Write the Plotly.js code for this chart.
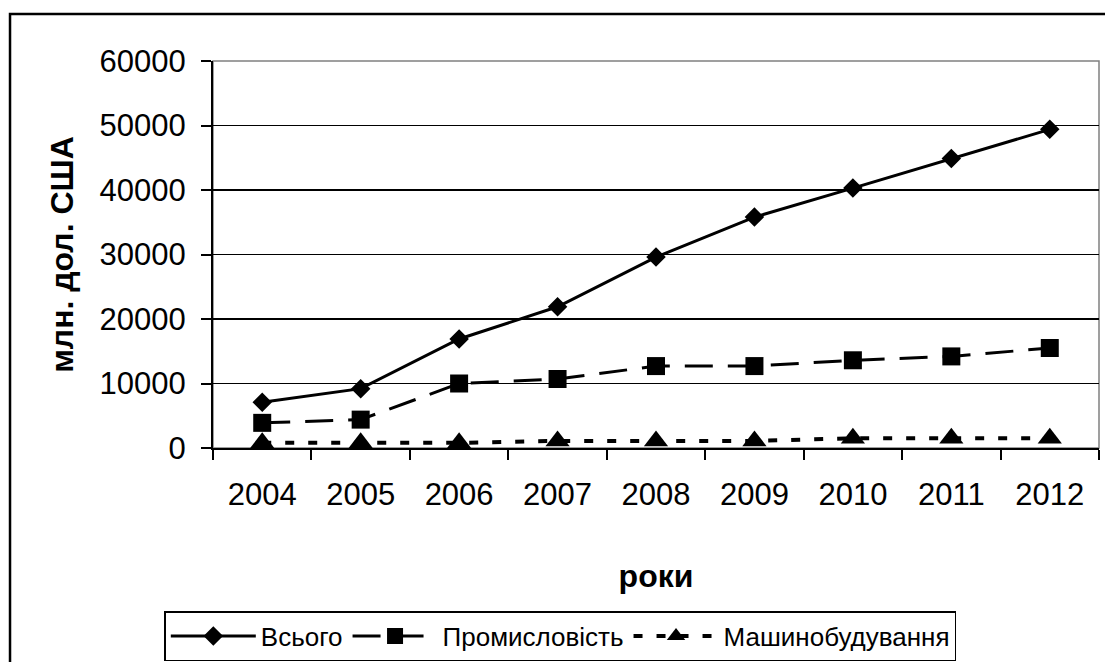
<!DOCTYPE html>
<html>
<head>
<meta charset="utf-8">
<script src="https://cdn.plot.ly/plotly-3.0.1.min.js"></script>
<style>html,body{margin:0;padding:0;background:#fff;}#chart{width:1105px;height:662px;}</style>
</head>
<body>
<div id="chart"></div>
<script>
const years = ['2004','2005','2006','2007','2008','2009','2010','2011','2012'];
const totalValues = [7100, 9200, 16900, 21900, 29600, 35800, 40300, 44900, 49400];
const industryValues = [3900, 4400, 10000, 10700, 12700, 12700, 13600, 14200, 15500];
const machineValues = [800, 800, 800, 1100, 1100, 1100, 1500, 1500, 1500];
const seriesNames = ['Всього', 'Промисловість', 'Машинобудування'];
const yTicks = [0, 10000, 20000, 30000, 40000, 50000, 60000];

const FONT = 'Liberation Sans, Arial, sans-serif';

const traces = [
  {
    x: years, y: totalValues, name: seriesNames[0], type: 'scatter', mode: 'lines+markers',
    line: {color: '#000', width: 3},
    marker: {symbol: 'diamond', size: 15, color: '#000'}
  },
  {
    x: years, y: industryValues, name: seriesNames[1], type: 'scatter', mode: 'lines+markers',
    line: {color: '#000', width: 3, dash: '28px,15px'},
    marker: {symbol: 'square', size: 18, color: '#000'}
  },
  {
    x: years, y: machineValues, name: seriesNames[2], type: 'scatter', mode: 'lines+markers',
    line: {color: '#000', width: 4, dash: '9px,14px'},
    marker: {symbol: 'triangle-up', size: 21, color: '#000'}
  }
];

const layout = {
  width: 1105, height: 662,
  margin: {l: 213, r: 6, t: 61, b: 214, pad: 0},
  paper_bgcolor: '#fff', plot_bgcolor: '#fff',
  font: {family: FONT, color: '#000', size: 26},
  showlegend: true,
  hovermode: false,
  xaxis: {
    type: 'category',
    range: [-0.5, 8.5],
    tickvals: years, ticktext: years,
    tickfont: {family: FONT, size: 31, color: '#000'},
    ticks: 'outside', ticklen: 10, tickwidth: 2, tickcolor: '#000',
    tickson: 'boundaries',
    ticklabelstandoff: 18,
    showline: true, linecolor: '#000', linewidth: 2,
    showgrid: false, zeroline: false,
    title: {text: 'роки', font: {family: FONT, size: 32, color: '#000', weight: 'bold'}, standoff: 53},
    automargin: false
  },
  yaxis: {
    range: [0, 60000],
    tickvals: yTicks, ticktext: yTicks.map(String),
    tickfont: {family: FONT, size: 31, color: '#000'},
    ticks: 'outside', ticklen: 10, tickwidth: 2, tickcolor: '#000',
    ticklabelstandoff: 9,
    showline: true, linecolor: '#000', linewidth: 2,
    showgrid: true, gridcolor: '#000', gridwidth: 1.5,
    zeroline: false,
    title: {text: 'млн. дол. США', font: {family: FONT, size: 32, color: '#000', weight: 'bold'}, standoff: 16},
    automargin: false
  },
  legend: {
    orientation: 'h',
    x: 0.392, xanchor: 'center',
    yref: 'container',
    y: 0.0015, yanchor: 'bottom',
    bordercolor: '#000', borderwidth: 1.5,
    bgcolor: '#fff',
    font: {family: FONT, size: 26, color: '#000'},
    itemwidth: 85
  },
  shapes: [
    {type: 'rect', xref: 'paper', yref: 'paper', x0: 0, x1: 1, y0: 0, y1: 1,
     line: {color: '#808080', width: 1.5}, layer: 'below'},
    {type: 'rect', xref: 'paper', yref: 'paper', x0: -0.2291, x1: 1.2, y0: -1, y1: 1.1214,
     line: {color: '#000', width: 2.5}, layer: 'below'}
  ]
};

Plotly.newPlot('chart', traces, layout, {displayModeBar: false, staticPlot: true});
</script>
</body>
</html>
